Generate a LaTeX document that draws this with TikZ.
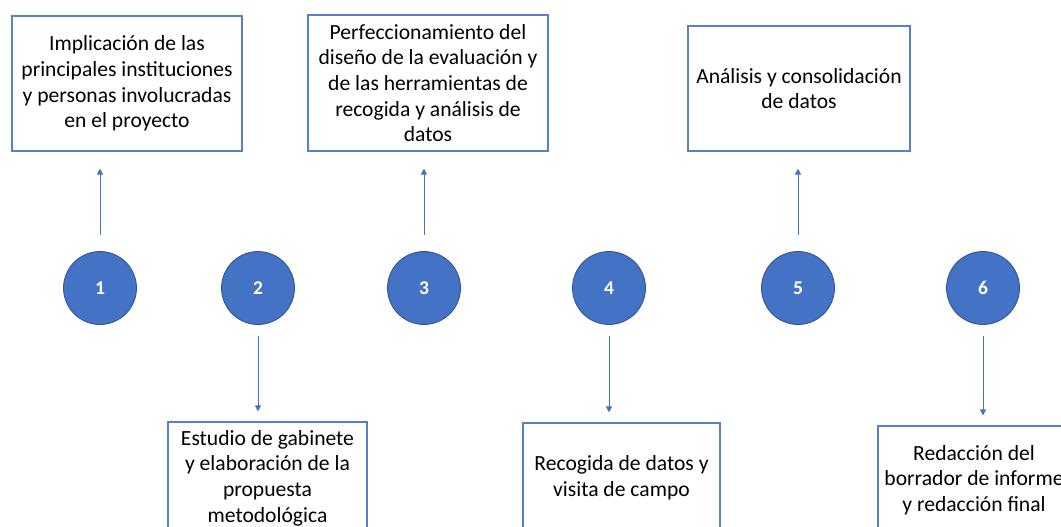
\documentclass[tikz,border=0pt]{standalone}
\usepackage{fontspec}
\setmainfont{Carlito}
\usetikzlibrary{arrows.meta, positioning}
\definecolor{stepblue}{HTML}{4472C4}
\definecolor{stepedge}{HTML}{2F528F}

\begin{document}
\begin{tikzpicture}[
        x=1pt, y=-1pt,
        font=\fontsize{21.6}{25.6}\selectfont,
        box/.style={draw=stepblue!90, line width=1.1pt, align=center, inner sep=0pt},
        num/.style={circle, fill=stepblue, draw=stepedge, line width=0.8pt, minimum size=73pt, inner sep=0pt, text=white, font=\fontsize{19.5}{21}\selectfont\bfseries},
        arr/.style={-{Triangle[length=6pt, width=6pt]}, line width=0.9pt, draw=stepblue},
        up/.style={arr, shorten <=16pt, shorten >=17pt},
        down/.style={arr, shorten <=11pt, shorten >=10pt}
    ]
        \useasboundingbox (0,0) rectangle (1061,527);
        \clip (0,0) rectangle (1061,527);

        \node[num] (n1) at (100,288) {1};
        \node[num] (n2) at (258,288) {2};
        \node[num] (n3) at (424,288) {3};
        \node[num] (n4) at (609,288) {4};
        \node[num] (n5) at (798,288) {5};
        \node[num] (n6) at (983,288) {6};

        \node[box, minimum width=230pt, minimum height=135pt] (b1) at (127,83.5) {Implicación de las\\principales instituciones\\y personas involucradas\\en el proyecto};
        \node[box, minimum width=240pt, minimum height=136pt] (b3) at (428,83) {Perfeccionamiento del\\diseño de la evaluación y\\de las herramientas de\\recogida y análisis de\\datos};
        \node[box, minimum width=222pt, minimum height=125pt] (b5) at (799,88.5) {Análisis y consolidación\\de datos};
        \node[box, minimum width=199pt, minimum height=112pt] (b2) at (267.5,478) {Estudio de gabinete\\y elaboración de la\\propuesta\\metodológica};
        \node[box, minimum width=197pt, minimum height=110pt] (b4) at (621.5,478) {Recogida de datos y\\visita de campo};
        \node[box, minimum width=192pt, minimum height=108pt] (b6) at (974,480) {Redacción del\\borrador de informe\\y redacción final};

        \draw[up] (n1.north) -- (n1.north |- b1.south);
        \draw[up] (n3.north) -- (n3.north |- b3.south);
        \draw[up] (n5.north) -- (n5.north |- b5.south);
        \draw[down] (n2.south) -- (n2.south |- b2.north);
        \draw[down] (n4.south) -- (n4.south |- b4.north);
        \draw[down] (n6.south) -- (n6.south |- b6.north);
    \end{tikzpicture}
\end{document}
